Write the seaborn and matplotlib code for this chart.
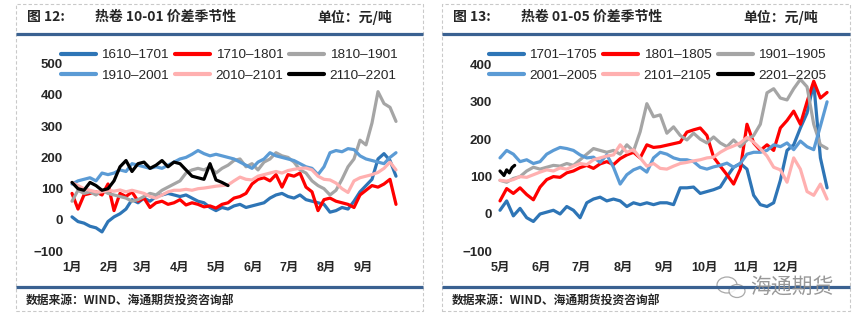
import numpy as np
import pandas as pd
import matplotlib
matplotlib.use("Agg")
import matplotlib.pyplot as plt
import seaborn as sns
from matplotlib.lines import Line2D
from matplotlib.patches import Rectangle, Ellipse
from matplotlib.transforms import IdentityTransform

# ---------------- data: 热卷 10-01 价差 (days since Jan 1, 5-day sampling) ----------------
left_days = list(range(0, 275, 5))
s1610_1701 = [10, -5, -10, -20, -25, -38, -5, 10, 20, 35,
              65, 55, 70, 60, 75, 80, 85, 80, 75, 80,
              70, 60, 55, 40, 30, 40, 35, 45, 50, 40,
              45, 50, 55, 70, 80, 85, 75, 70, 80, 65,
              60, 55, 50, 25, 30, 40, 35, 60, 90, 110,
              130, 195, 212, 190, 140]
s1710_1801 = [85, 35, 80, 85, 90, 80, 115, 30, 85, 75,
              90, 60, 70, 40, 55, 60, 50, 55, 65, 48,
              55, 50, 42, 45, 38, 50, 55, 70, 75, 85,
              115, 130, 135, 125, 145, 105, 145, 140, 150, 105,
              90, 30, 65, 70, 60, 55, 50, 40, 80, 95,
              110, 105, 115, 130, 50]
s1810_1901 = [60, 95, 85, 90, 80, 95, 85, 80, 75, 70,
              60, 65, 75, 85, 80, 95, 105, 115, 125, 150,
              160, 165, 160, 170, 150, 165, 175, 190, 195, 170,
              180, 160, 185, 195, 215, 205, 200, 185, 160, 150,
              125, 110, 100, 80, 95, 130, 170, 195, 255, 240,
              310, 410, 372, 360, 315]
s1910_2001 = [115, 125, 130, 135, 125, 150, 145, 150, 160, 155,
              180, 175, 170, 165, 170, 165, 175, 185, 195, 200,
              210, 222, 212, 205, 210, 205, 200, 195, 185, 175,
              165, 185, 195, 215, 205, 200, 195, 190, 180, 170,
              165, 145, 170, 215, 222, 218, 228, 225, 205, 195,
              190, 185, 180, 200, 215]
s2010_2101 = [120, 110, 100, 95, 90, 90, 95, 92, 96, 90,
              95, 90, 85, 75, 70, 80, 90, 95, 95, 98,
              95, 100, 102, 105, 108, 110, 112, 125, 137, 130,
              128, 140, 145, 150, 155, 150, 158, 162, 165, 166,
              160, 140, 130, 128, 118, 100, 88, 125, 135, 140,
              145, 152, 165, 185, 160]
black_days_left = list(range(0, 135, 5))
s2110_2201 = [120, 100, 95, 120, 110, 95, 100, 125, 170, 190,
              155, 180, 185, 165, 175, 190, 170, 185, 180, 160,
              140, 135, 130, 180, 128, 120, 110]

# ---------------- data: 热卷 01-05 价差 (days since May 1, 5-day sampling) ----------------
right_days = list(range(0, 250, 5))
s1701_1705 = [10, 35, -5, 15, -10, -20, 0, 5, 10, 0,
              20, 10, -10, 30, 40, 45, 35, 40, 35, 20,
              30, 25, 30, 25, 30, 30, 25, 70, 70, 72,
              55, 60, 65, 72, 100, 125, 135, 120, 50, 25,
              20, 30, 90, 170, 185, 230, 270, 350, 150, 70]
s1801_1805 = [35, 68, 55, 70, 52, 38, 72, 92, 100, 98,
              110, 115, 124, 130, 122, 134, 140, 132, 148, 158,
              165, 150, 185, 178, 180, 184, 188, 192, 219, 225,
              230, 210, 152, 128, 105, 80, 120, 240, 190, 170,
              185, 170, 230, 250, 275, 240, 300, 355, 310, 325]
s1901_1905 = [90, 85, 95, 100, 115, 125, 120, 125, 130, 128,
              135, 130, 145, 160, 175, 170, 165, 170, 160, 185,
              168, 220, 295, 260, 265, 216, 233, 210, 198, 216,
              200, 190, 206, 190, 180, 198, 180, 198, 210, 240,
              324, 335, 310, 305, 335, 360, 340, 240, 185, 175]
s2001_2005 = [150, 170, 160, 140, 145, 135, 140, 160, 170, 178,
              175, 170, 158, 150, 152, 138, 158, 125, 80, 105,
              118, 125, 112, 150, 165, 160, 150, 145, 145, 140,
              125, 120, 126, 130, 136, 125, 135, 160, 165, 165,
              170, 185, 180, 190, 172, 195, 180, 172, 235, 300]
s2101_2105 = [90, 88, 92, 100, 98, 105, 112, 118, 115, 123,
              120, 128, 135, 132, 145, 150, 155, 158, 185, 165,
              172, 150, 128, 135, 122, 120, 128, 135, 138, 142,
              145, 150, 152, 165, 175, 182, 190, 205, 192, 175,
              155, 125, 118, 85, 150, 120, 60, 50, 80, 40]
black_days_right = [0, 3, 5, 7, 9, 11]
s2201_2205 = [115, 103, 118, 110, 124, 130]

left_labels = ["1610–1701", "1710–1801", "1810–1901", "1910–2001", "2010–2101", "2110–2201"]
right_labels = ["1701–1705", "1801–1805", "1901–1905", "2001–2005", "2101–2105", "2201–2205"]
colors = ["#2E75B6", "#FF0000", "#A5A5A5", "#5B9BD5", "#FFB0B0", "#000000"]

left_month_days = [0, 31, 59, 90, 120, 151, 181, 212, 243]
left_month_labels = ["1月", "2月", "3月", "4月", "5月", "6月", "7月", "8月", "9月"]
right_month_days = [0, 31, 61, 92, 123, 153, 184, 214]
right_month_labels = ["5月", "6月", "7月", "8月", "9月", "10月", "11月", "12月"]


def long_frame(labels, day_lists, value_lists):
    parts = []
    for lab, d, v in zip(labels, day_lists, value_lists):
        parts.append(pd.DataFrame({"day": d, "value": v, "series": lab}))
    return pd.concat(parts, ignore_index=True)


left_df = long_frame(left_labels,
                     [left_days] * 5 + [black_days_left],
                     [s1610_1701, s1710_1801, s1810_1901, s1910_2001, s2010_2101, s2110_2201])
right_df = long_frame(right_labels,
                      [right_days] * 5 + [black_days_right],
                      [s1701_1705, s1801_1805, s1901_1905, s2001_2005, s2101_2105, s2201_2205])

sns.set_theme(style="white")
plt.rcParams["font.family"] = ["Liberation Sans", "Noto Sans CJK SC", "DejaVu Sans"]
plt.rcParams["axes.unicode_minus"] = True

W, H = 854, 324
fig = plt.figure(figsize=(W / 100, H / 100), dpi=100)


def fx(px):
    return px / W


def fy(py):
    return 1 - py / H


HEADER_BLUE = "#3A6191"
CJK = ["Noto Sans CJK SC", "DejaVu Sans"]


def panel(x0, x1, fig_num, title):
    # dashed frame
    fig.add_artist(Rectangle((fx(x0), fy(311)), fx(x1 - x0), (311 - 4) / H,
                             transform=fig.transFigure, fill=False,
                             edgecolor="#C9C9C9", lw=0.8, ls=(0, (3, 2))))
    for yy in (34, 287):
        fig.add_artist(Line2D([fx(x0), fx(x1)], [fy(yy), fy(yy)], color=HEADER_BLUE,
                              lw=2.3, transform=fig.transFigure, solid_capstyle="butt"))
    fig.text(fx(x0 + 11), fy(17), fig_num, fontsize=10, fontweight="bold",
             family=CJK, va="center", ha="left")
    fig.text(fx(x0 + 79), fy(17), title, fontsize=10, fontweight="bold",
             family=CJK, va="center", ha="left")
    fig.text(fx(x0 + 301), fy(17), "单位：元/吨", fontsize=10, fontweight="bold",
             family=CJK, va="center", ha="left")
    fig.text(fx(x0 + 10), fy(300), "数据来源：WIND、海通期货投资咨询部", fontsize=8.5,
             fontweight="bold", family=CJK, va="center", ha="left")


def draw_axes(rect, df, labels, xlim, ylim, yticks, mdays, mlabels, ypad, legend_x):
    ax = fig.add_axes(rect)
    ax.patch.set_alpha(0)
    sns.lineplot(data=df, x="day", y="value", hue="series", hue_order=labels,
                 palette=dict(zip(labels, colors)), estimator=None, sort=False,
                 linewidth=2.3, legend=False, ax=ax)
    ax.set_xlim(*xlim)
    ax.set_ylim(*ylim)
    ax.set_yticks(yticks)
    ax.set_xticks(mdays)
    ax.set_xticklabels(mlabels)
    ax.set_xlabel("")
    ax.set_ylabel("")
    sns.despine(ax=ax, left=True, bottom=True)
    ax.tick_params(axis="y", length=0, labelsize=9.5, pad=ypad)
    ax.tick_params(axis="x", length=0, labelsize=9, pad=2.5)
    for t in ax.get_xticklabels() + ax.get_yticklabels():
        t.set_fontweight("bold")
    handles = [Line2D([0], [0], color=c, lw=3) for c in colors]
    order = [0, 3, 1, 4, 2, 5]
    ax.legend([handles[i] for i in order], [labels[i] for i in order],
              loc="upper left", bbox_to_anchor=(fx(legend_x), fy(49)),
              bbox_transform=fig.transFigure, ncol=3, frameon=False,
              borderpad=0, borderaxespad=0, handlelength=2.6, handletextpad=0.4,
              columnspacing=0.45, labelspacing=0.62, fontsize=9.7)
    return ax


panel(16, 423, "图 12:", "热卷 10-01 价差季节性")
panel(442, 850, "图 13:", "热卷 01-05 价差季节性")

# left: px = 72 + 1.2*day ; py = 220 - 0.313*value
draw_axes([fx(68), fy(258), fx(410) - fx(68), (258 - 55) / H], left_df, left_labels,
          ((68 - 72) / 1.2, (410 - 72) / 1.2), ((220 - 258) / 0.313, (220 - 55) / 0.313),
          [-100, 0, 100, 200, 300, 400, 500], left_month_days, left_month_labels, 3.6, 61)
# right: px = 500 + 1.335*day ; py = 214 - 0.374*value
draw_axes([fx(496), fy(258), fx(836) - fx(496), (258 - 55) / H], right_df, right_labels,
          ((496 - 500) / 1.335, (836 - 500) / 1.335), ((214 - 258) / 0.374, (214 - 55) / 0.374),
          [-100, 0, 100, 200, 300, 400], right_month_days, right_month_labels, 2.9, 489)

# watermark
for cx, cy, w, h in [(727, 285, 20, 16), (737, 291, 16, 13)]:
    fig.add_artist(Ellipse((cx, H - cy), w, h, transform=IdentityTransform(),
                           facecolor="white", edgecolor="#9A9A9A", lw=0.9, alpha=0.85))
fig.text(fx(750), fy(287), "海通期货", fontsize=15, color="#8E8E8E", family=CJK,
         va="center", ha="left", alpha=0.9)

fig.savefig("out.png", dpi=100)
